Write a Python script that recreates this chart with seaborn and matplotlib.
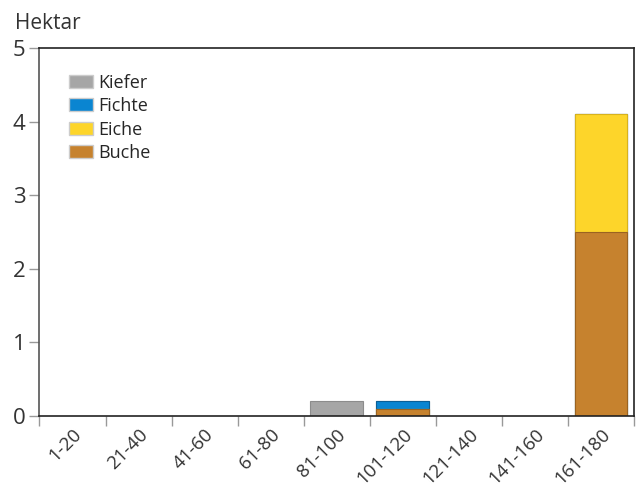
import pandas as pd
import matplotlib
matplotlib.use("Agg")
import matplotlib.pyplot as plt
import matplotlib.transforms as mtransforms
import seaborn as sns
from matplotlib.patches import Patch

# Altersklassen (Jahre) und Fläche je Baumart in Hektar
altersklassen = ["1-20", "21-40", "41-60", "61-80", "81-100",
                 "101-120", "121-140", "141-160", "161-180"]
buche = [0, 0, 0, 0, 0, 0.09, 0, 0, 2.5]
eiche = [0, 0, 0, 0, 0, 0, 0, 0, 1.6]
fichte = [0, 0, 0, 0, 0, 0.11, 0, 0, 0]
kiefer = [0, 0, 0, 0, 0.2, 0, 0, 0, 0]

arten = ["Kiefer", "Fichte", "Eiche", "Buche"]
farben = {"Kiefer": "#a6a6a6", "Fichte": "#0a85d1",
          "Eiche": "#fdd52a", "Buche": "#c6822e"}
kanten = {"Kiefer": "#8c8c8c", "Fichte": "#0b5f96",
          "Eiche": "#d8b21d", "Buche": "#9a6322"}

df = pd.DataFrame({"klasse": altersklassen, "Buche": buche, "Eiche": eiche,
                   "Fichte": fichte, "Kiefer": kiefer})
# gestapelt: unten Buche, dann Eiche, Fichte, Kiefer
df["c_Buche"] = df["Buche"]
df["c_Eiche"] = df["c_Buche"] + df["Eiche"]
df["c_Fichte"] = df["c_Eiche"] + df["Fichte"]
df["c_Kiefer"] = df["c_Fichte"] + df["Kiefer"]

sns.set_style("white")
plt.rcParams["font.family"] = ["Open Sans", "DejaVu Sans"]

fig = plt.figure(figsize=(6.4, 4.88), dpi=100)
ax = fig.add_axes([0.0617, 0.148, 0.929, 0.7537])

for art in arten:
    sns.barplot(x="klasse", y="c_" + art, data=df, order=altersklassen,
                color=farben[art], saturation=1, width=0.8,
                edgecolor=kanten[art], linewidth=0.8, ax=ax)
    # Balken mit Höhe 0 nicht zeichnen
    for p in ax.patches[-len(altersklassen):]:
        if p.get_height() <= 0:
            p.set_visible(False)

ax.set_xlim(-0.5, len(altersklassen) - 0.5)
ax.set_ylim(0, 5)
ax.set_yticks([0, 1, 2, 3, 4, 5])
ax.set_xlabel("")
ax.set_ylabel("")

# Ticks an den Klassengrenzen, Beschriftung in der Mitte
ax.set_xticks([i - 0.5 for i in range(len(altersklassen) + 1)], minor=True)
ax.set_xticks(range(len(altersklassen)))
ax.set_xticklabels(altersklassen, rotation=45, ha="right",
                   rotation_mode="anchor", fontsize=13.5, color="#333333")
verschiebung = mtransforms.ScaledTranslation(4 / 72, 0, fig.dpi_scale_trans)
for lbl in ax.get_xticklabels():
    lbl.set_transform(lbl.get_transform() + verschiebung)
ax.tick_params(axis="x", which="major", length=0, pad=7)
ax.tick_params(axis="x", which="minor", bottom=True, length=7,
               width=1, color="#999999")
ax.tick_params(axis="y", left=True, length=7, width=1, color="#999999",
               labelsize=16, labelcolor="#333333", pad=3)

for s in ax.spines.values():
    s.set_visible(True)
    s.set_color("#222222")
    s.set_linewidth(1.2)
ax.spines["left"].set_color("#555555")

fig.text(15 / 640, 1 - 29 / 488, "Hektar", fontsize=15, color="#333333",
         ha="left", va="baseline")

handles = [Patch(facecolor=farben[a], edgecolor="#cccccc", label=a) for a in arten]
ax.legend(handles=handles, loc="upper left", bbox_to_anchor=(0.05, 0.93),
          frameon=False, fontsize=13, handlelength=1.3, handleheight=0.75,
          handletextpad=0.3, labelspacing=0.3, borderaxespad=0,
          borderpad=0)

fig.savefig("out.png", dpi=100)
